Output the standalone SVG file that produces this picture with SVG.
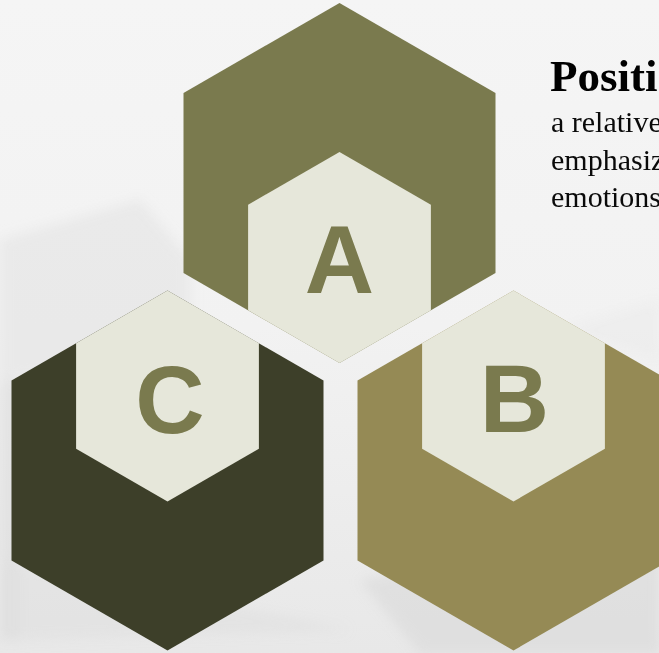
<svg xmlns="http://www.w3.org/2000/svg" width="659" height="653" viewBox="0 0 659 653">
  <defs>
    <linearGradient id="bg" x1="0" y1="0" x2="0" y2="1">
      <stop offset="0" stop-color="#f5f5f5"/>
      <stop offset="0.5" stop-color="#f2f2f2"/>
      <stop offset="1" stop-color="#e8e8e8"/>
    </linearGradient>
    <filter id="soft" x="-20%" y="-20%" width="140%" height="140%">
      <feGaussianBlur stdDeviation="6"/>
    </filter>
    <style>
      .inner { fill: #e6e7da; }
      .letter { font-family: "Liberation Sans", Arial, sans-serif; font-weight: bold; font-size: 96px; fill: #7a7a4e; text-anchor: middle; }
      .title { font-family: "Liberation Serif", "Times New Roman", serif; font-weight: bold; font-size: 45px; fill: #000; }
      .body { font-family: "Liberation Serif", "Times New Roman", serif; font-size: 30px; fill: #0a0a0a; }
    </style>
  </defs>

  <!-- background -->
  <rect x="0" y="0" width="659" height="653" fill="url(#bg)"/>
  <g id="background-book" filter="url(#soft)">
    <polygon points="0,240 140,200 190,260 190,360 0,380" fill="#e6e6e6" opacity="0.7"/>
    <polygon points="0,380 20,380 20,640 0,640" fill="#dcdcdc" opacity="0.6"/>
    <polygon points="0,560 200,600 350,630 0,640" fill="#dddddd" opacity="0.5"/>
    <polygon points="360,580 659,540 659,653 420,653" fill="#d9d9d9" opacity="0.6"/>
    <polygon points="560,330 659,300 659,360" fill="#ebebeb" opacity="0.6"/>
  </g>

  <!-- node A -->
  <g id="node-A">
    <polygon points="339.5,3 495.5,93 495.5,273 339.5,363 183.5,273 183.5,93" fill="#7a7a4e"/>
    <polygon class="inner" points="339.5,152 430.9,204.75 430.9,310.25 339.5,363 248.1,310.25 248.1,204.75"/>
    <text class="letter" x="339.5" y="293">A</text>
  </g>

  <!-- node C -->
  <g id="node-C">
    <polygon points="167.5,290.5 323.5,380.5 323.5,560.5 167.5,650.5 11.5,560.5 11.5,380.5" fill="#3d3f29"/>
    <polygon class="inner" points="167.5,290.5 258.9,343.25 258.9,448.75 167.5,501.5 76.1,448.75 76.1,343.25"/>
    <text class="letter" x="170" y="432.5">C</text>
  </g>

  <!-- node B -->
  <g id="node-B">
    <polygon points="513.5,290.5 669.5,380.5 669.5,560.5 513.5,650.5 357.5,560.5 357.5,380.5" fill="#958a55"/>
    <polygon class="inner" points="513.5,290.5 604.9,343.25 604.9,448.75 513.5,501.5 422.1,448.75 422.1,343.25"/>
    <text class="letter" x="514.5" y="431.7">B</text>
  </g>

  <g id="connectors"/>

  <!-- text block (clipped at right edge as in the reference) -->
  <g id="text-block">
    <text class="title" x="550" y="90.7">Positi</text>
    <text class="body" x="551" y="132">a relative</text>
    <text class="body" x="551" y="169.5">emphasiz</text>
    <text class="body" x="551" y="207">emotions</text>
  </g>
</svg>
